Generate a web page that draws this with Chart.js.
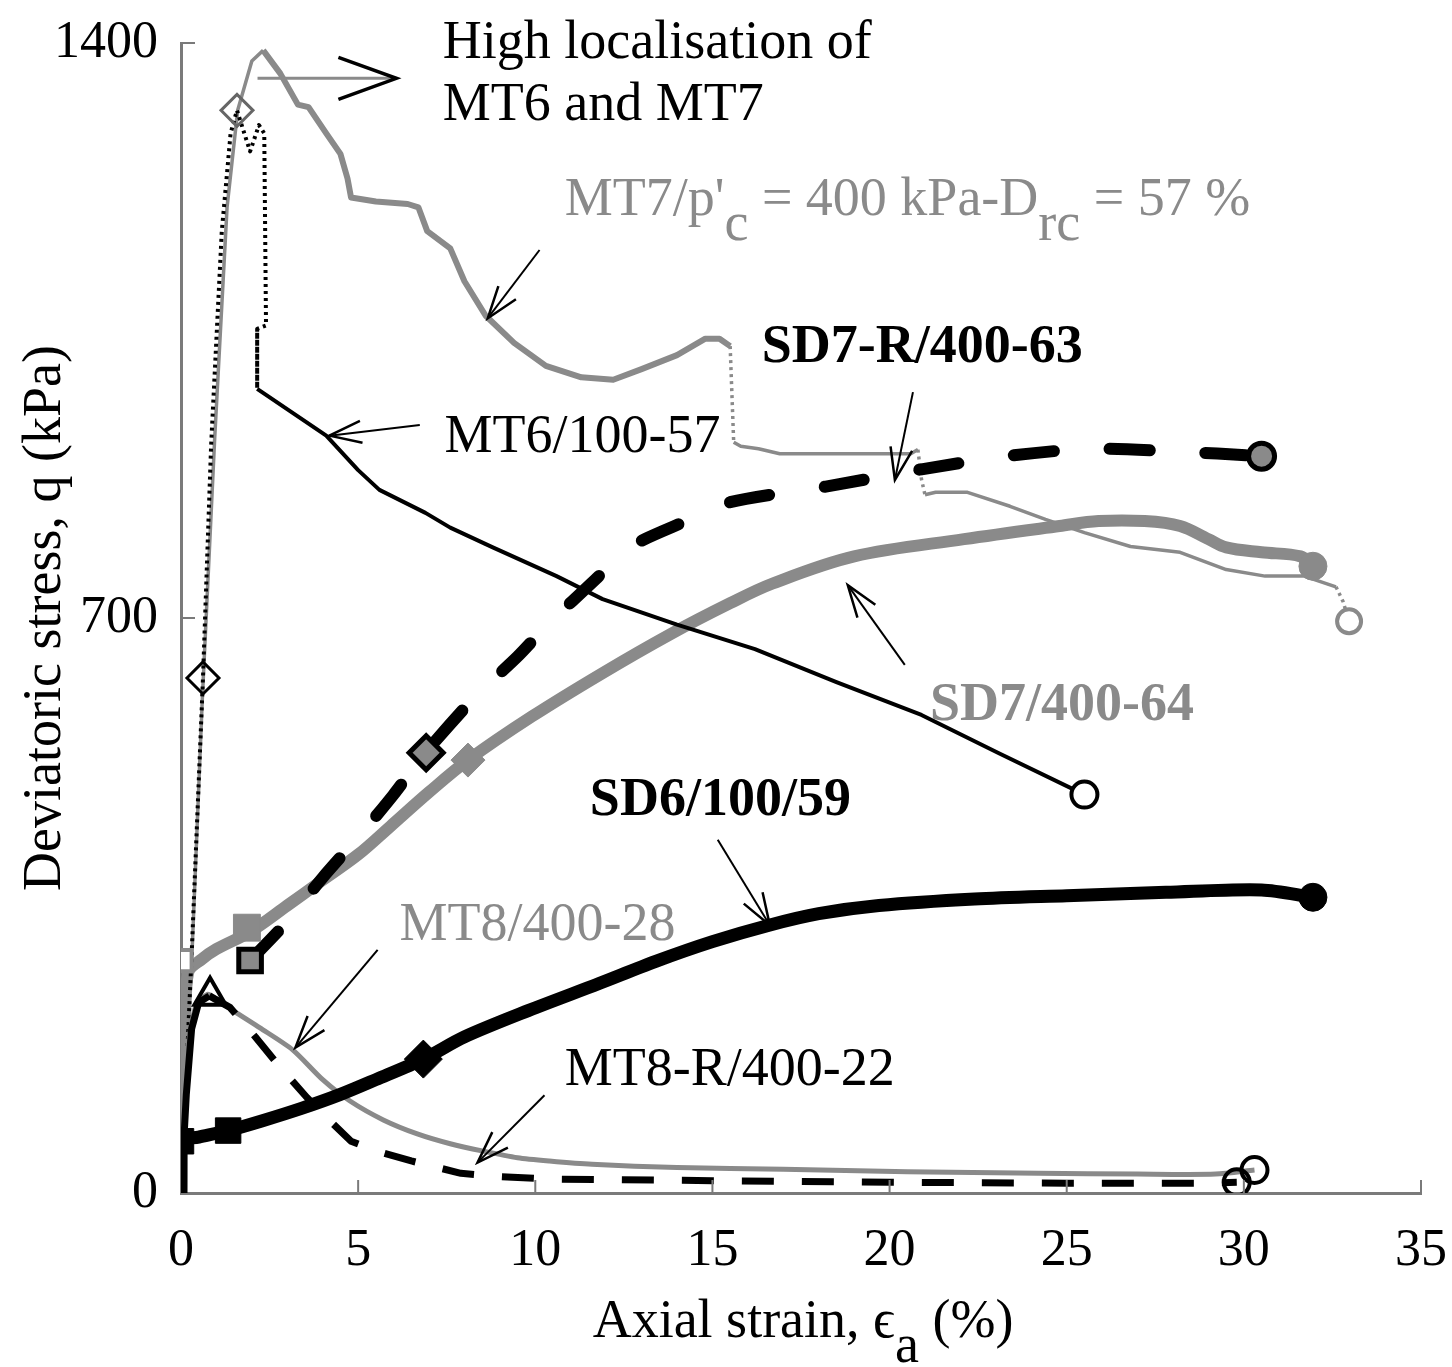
<!DOCTYPE html>
<html>
<head>
<meta charset="utf-8">
<script src="https://cdn.jsdelivr.net/npm/chart.js@4.4.0/dist/chart.umd.min.js"></script>
<style>
  html, body { margin: 0; padding: 0; background: #fff; }
  #wrap { width: 1452px; height: 1367px; }
</style>
</head>
<body>
<div id="wrap"><canvas id="chart" width="1452" height="1367"></canvas></div>
<script>
/* axes */
var X_TICKS = [0, 5, 10, 15, 20, 25, 30, 35];
var Y_TICKS = [0, 700, 1400];

/* MT7/400-57 : thin grey, dotted where the sample localised */
var mt7Strain = [0, 0.3, 0.6, 0.95, 1.3, 1.6, 2.0, 2.32, 2.8, 3.3, 3.6, 4.1, 4.5, 4.7, 4.8, 5.5, 6.4, 6.7, 6.95, 7.6, 8.0, 8.6, 9.4, 10.3, 11.3, 12.2, 13.0, 14.0, 14.8, 15.2, 15.5,
  15.6, 15.8, 16.3, 16.9, 18.5, 20.6, 20.8, 20.9, 21.0, 21.3, 22.2, 23.4, 24.4, 25.5, 26.8, 28.2, 29.5, 30.6, 31.7, 32.6, 32.8, 32.97];
var mt7Q = [0, 280, 600, 918, 1200, 1318, 1378, 1391, 1363, 1325, 1322, 1290, 1265, 1235, 1212, 1207, 1204, 1200, 1171, 1150, 1110, 1068, 1035, 1007, 993, 990, 1003, 1020, 1040, 1040, 1031,
  914, 909, 906, 900, 900, 900, 905, 869, 850, 853, 853, 836, 820, 804, 787, 780, 759, 751, 751, 738, 720, 696];
var mt7Dotted = [30, 37, 38, 50, 51];

/* MT6/100-57 : thin black, dotted rise and drop */
var mt6Strain = [0, 0.3, 0.62, 0.85, 1.15, 1.4, 1.58, 1.95, 2.2, 2.35, 2.4, 2.15, 2.15, 4.1, 5.0, 5.6, 6.9, 7.6, 8.8, 10.6, 11.9, 14.0, 16.2, 18.5, 20.9, 23.1, 25.5];
var mt6Q = [0, 290, 627, 910, 1170, 1290, 1318, 1268, 1300, 1290, 1056, 1052, 979, 922, 880, 856, 828, 810, 786, 751, 723, 692, 662, 622, 582, 535, 485];
var mt6Dotted = [0, 1, 2, 3, 4, 5, 6, 7, 8, 9, 10, 11];

/* SD7/400-64 : thick grey */
var sd7Strain = [0, 0.05, 0.2, 0.6, 1.0, 1.95, 3.0, 3.9, 5.0, 5.9, 7.0, 8.1, 9.9, 11.9, 13.8, 15.5, 16.7, 19.0, 22.1, 24.8, 25.9, 27.2, 28.2, 29.0, 29.5, 30.5, 31.6, 31.95];
var sd7Q = [0, 160, 268, 285, 297, 318, 350, 378, 412, 446, 488, 527, 580, 633, 680, 718, 742, 775, 796, 812, 818, 818, 812, 796, 786, 780, 775, 763];

/* SD7-R/400-63 : thick black dashed (visible from its first marker on) */
var sd7rStrain = [1.95, 2.9, 4.0, 5.1, 6.0, 6.9, 8.3, 9.5, 10.4, 11.7, 12.7, 14.2, 15.5, 18.2, 20.9, 23.3, 25.6, 28.0, 30.5];
var sd7rQ = [283, 326, 384, 438, 485, 536, 604, 653, 694, 747, 787, 817, 841, 860, 881, 897, 906, 903, 897];

/* SD6/100/59 : thick black */
var sd6Strain = [0, 0, 0.5, 1.33, 2.3, 3.4, 4.5, 5.5, 6.84, 8.0, 9.8, 11.8, 13.4, 15.0, 16.6, 18.0, 19.7, 22.4, 25.0, 27.8, 30.5, 31.95];
var sd6Q = [0, 63, 68, 76, 88, 103, 120, 138, 163, 190, 222, 255, 282, 306, 326, 340, 350, 358, 362, 366, 369, 360];

/* MT8/400-28 : thin grey */
var mt8Strain = [0, 0.15, 0.4, 0.75, 1.0, 1.47, 2.23, 3.16, 4.0, 4.77, 5.71, 6.67, 7.6, 8.53, 9.5, 10.4, 11.6, 14.0, 17.0, 20.5, 24.2, 27.0, 29.2, 30.3];
var mt8Q = [0, 160, 225, 242, 236, 222, 201, 174, 138, 112, 89, 72, 60, 51, 43, 39, 35, 31, 29, 26, 24, 23, 23, 28];

/* MT8-R/400-22 : black dashed */
var mt8rStrain = [0, 0.15, 0.3, 0.5, 0.8, 1.38, 2.1, 2.8, 3.56, 4.2, 4.8, 5.6, 6.5, 7.9, 9.0, 10.4, 15.0, 20.0, 25.0, 28.8, 29.8];
var mt8rQ = [0, 120, 200, 232, 240, 226, 190, 153, 116, 88, 63, 50, 39, 24, 20, 17, 15, 13, 12, 12, 13];
var mt8rSolid = [0, 1, 2, 3];

/* markers */
var sd7OpenSqStrain = [0], sd7OpenSqQ = [283];
var sd7SqStrain = [1.86], sd7SqQ = [323];
var sd7DiaStrain = [8.1], sd7DiaQ = [527];
var sd7EndStrain = [31.95], sd7EndQ = [763];
var sd7rSqStrain = [1.95], sd7rSqQ = [283];
var sd7rDiaStrain = [6.92], sd7rDiaQ = [536];
var sd7rEndStrain = [30.5], sd7rEndQ = [897];
var sd6SqStrain = [0, 1.33], sd6SqQ = [63, 76];
var sd6DiaStrain = [6.84], sd6DiaQ = [163];
var sd6EndStrain = [31.95], sd6EndQ = [360];
var mt6DiaStrain = [0.62], mt6DiaQ = [627];
var mt7DiaStrain = [1.58], mt7DiaQ = [1318];
var mt6EndStrain = [25.5], mt6EndQ = [485];
var mt7EndStrain = [32.97], mt7EndQ = [696];
var mt8TriStrain = [0.82], mt8TriQ = [240];
var mt8EndStrain = [30.3], mt8EndQ = [28];
var mt8rEndStrain = [29.8], mt8rEndQ = [13];

var GREY = '#8a8a8a';
var BLACK = '#000';
var AXIS = '#7a7a7a';
var FONT = '"Liberation Serif", "Times New Roman", serif';

/* text labels and arrows, in data units (strain %, kPa) */
var LABELS = [
  { runs: [{ t: 'High localisation of' }], x: 7.39, q: 1382, colour: BLACK },
  { runs: [{ t: 'MT6 and MT7' }], x: 7.39, q: 1306, colour: BLACK },
  { runs: [{ t: "MT7/p'" }, { t: 'c', dy: 25 }, { t: ' = 400 kPa-D' }, { t: 'rc', dy: 25 }, { t: ' = 57 %' }], x: 10.83, q: 1191, colour: GREY },
  { runs: [{ t: 'SD7-R/400-63' }], x: 16.39, q: 1012, colour: BLACK, bold: true },
  { runs: [{ t: 'MT6/100-57' }], x: 7.44, q: 902, colour: BLACK },
  { runs: [{ t: 'SD7/400-64' }], x: 21.14, q: 576, colour: GREY, bold: true },
  { runs: [{ t: 'SD6/100/59' }], x: 11.54, q: 460, colour: BLACK, bold: true },
  { runs: [{ t: 'MT8/400-28' }], x: 6.17, q: 308, colour: GREY },
  { runs: [{ t: 'MT8-R/400-22' }], x: 10.83, q: 131, colour: BLACK }
];
var ARROWS = [
  { from: [2.16, 1357], to: [6.08, 1357], shaft: GREY, width: 3, head: 58, spread: 21, headWidth: 3.5 },
  { from: [10.12, 1148], to: [8.66, 1065] },
  { from: [20.66, 975], to: [20.15, 868] },
  { from: [6.74, 935], to: [4.19, 922] },
  { from: [20.43, 643], to: [18.82, 740] },
  { from: [15.15, 430], to: [16.62, 326] },
  { from: [5.55, 296], to: [3.23, 177] },
  { from: [10.26, 119], to: [8.37, 37] }
];

function pts(xs, ys) {
  return xs.map(function (x, i) { return { x: x, y: ys[i] }; });
}

function lineSet(xs, ys, opts) {
  return Object.assign({
    data: pts(xs, ys), showLine: true, pointRadius: 0, pointHoverRadius: 0,
    fill: false, tension: 0, borderCapStyle: 'butt', borderJoinStyle: 'round'
  }, opts);
}

function markerSet(xs, ys, style, radius, fillColour, edgeColour, edge) {
  return {
    data: pts(xs, ys), showLine: false, pointStyle: style, pointRadius: radius, pointHoverRadius: radius,
    backgroundColor: fillColour, borderColor: edgeColour, pointBorderWidth: edge, borderWidth: edge, order: 0
  };
}

var datasets = [
  lineSet(mt7Strain, mt7Q, {
    borderColor: GREY, borderWidth: 4, order: 10,
    segment: {
      borderDash: function (c) { return mt7Dotted.indexOf(c.p0DataIndex) >= 0 ? [3, 4] : undefined; },
      borderWidth: function (c) { return (c.p0DataIndex >= 7 && c.p0DataIndex < 30) ? 6 : 3.5; }
    }
  }),
  lineSet(sd7Strain, sd7Q, { borderColor: GREY, borderWidth: 12, tension: 0.35, borderCapStyle: 'round', order: 9 }),
  lineSet(mt6Strain, mt6Q, {
    borderColor: BLACK, borderWidth: 4, order: 8,
    segment: {
      borderDash: function (c) { return mt6Dotted.indexOf(c.p0DataIndex) >= 0 ? [3, 4] : undefined; }
    }
  }),
  lineSet(sd7rStrain, sd7rQ, { borderColor: BLACK, borderWidth: 12, tension: 0.25, borderCapStyle: 'round', borderDash: [40, 56], order: 7 }),
  lineSet(mt8Strain, mt8Q, { borderColor: GREY, borderWidth: 5, tension: 0.25, order: 6 }),
  lineSet(mt8rStrain, mt8rQ, {
    borderColor: BLACK, borderWidth: 7, tension: 0, order: 5,
    segment: {
      borderDash: function (c) { return mt8rSolid.indexOf(c.p0DataIndex) >= 0 ? undefined : [32, 28]; }
    }
  }),
  lineSet(sd6Strain, sd6Q, { borderColor: BLACK, borderWidth: 13, tension: 0.3, borderCapStyle: 'round', order: 4 }),

  markerSet(sd7OpenSqStrain, sd7OpenSqQ, 'rect', 15, '#fff', GREY, 4),
  markerSet(sd7SqStrain, sd7SqQ, 'rect', 19, GREY, GREY, 1),
  markerSet(sd7DiaStrain, sd7DiaQ, 'rectRot', 17, GREY, GREY, 1),
  markerSet(sd7EndStrain, sd7EndQ, 'circle', 14, GREY, GREY, 1),
  markerSet(sd7rSqStrain, sd7rSqQ, 'rect', 16, GREY, BLACK, 5),
  markerSet(sd7rDiaStrain, sd7rDiaQ, 'rectRot', 17, GREY, BLACK, 5),
  markerSet(sd7rEndStrain, sd7rEndQ, 'circle', 13, GREY, BLACK, 5),
  markerSet(sd6SqStrain, sd6SqQ, 'rect', 18, BLACK, BLACK, 1),
  markerSet(sd6DiaStrain, sd6DiaQ, 'rectRot', 19, BLACK, BLACK, 1),
  markerSet(sd6EndStrain, sd6EndQ, 'circle', 14, BLACK, BLACK, 1),
  markerSet(mt6DiaStrain, mt6DiaQ, 'rectRot', 16, 'rgba(255,255,255,0)', BLACK, 3),
  markerSet(mt7DiaStrain, mt7DiaQ, 'rectRot', 16, 'rgba(255,255,255,0)', '#666', 3),
  markerSet(mt6EndStrain, mt6EndQ, 'circle', 13, '#fff', BLACK, 4),
  markerSet(mt7EndStrain, mt7EndQ, 'circle', 12, '#fff', GREY, 4),
  markerSet(mt8TriStrain, mt8TriQ, 'triangle', 18, 'rgba(255,255,255,0)', BLACK, 4),
  markerSet(mt8EndStrain, mt8EndQ, 'circle', 13, 'rgba(255,255,255,0)', BLACK, 4),
  markerSet(mt8rEndStrain, mt8rEndQ, 'circle', 13, 'rgba(255,255,255,0)', BLACK, 4)
];

function drawArrow(ctx, xs, ys, a) {
  var x0 = xs.getPixelForValue(a.from[0]), y0 = ys.getPixelForValue(a.from[1]);
  var x1 = xs.getPixelForValue(a.to[0]), y1 = ys.getPixelForValue(a.to[1]);
  var ang = Math.atan2(y1 - y0, x1 - x0);
  var len = a.head || 32, spread = a.spread || 11;
  ctx.strokeStyle = a.shaft || BLACK;
  ctx.lineWidth = a.width || 2;
  ctx.beginPath(); ctx.moveTo(x0, y0); ctx.lineTo(x1, y1); ctx.stroke();
  var bx = x1 - len * Math.cos(ang), by = y1 - len * Math.sin(ang);
  var nx = -Math.sin(ang) * spread, ny = Math.cos(ang) * spread;
  ctx.strokeStyle = BLACK;
  ctx.lineWidth = a.headWidth || 2.5;
  ctx.beginPath();
  ctx.moveTo(bx + nx, by + ny); ctx.lineTo(x1, y1); ctx.lineTo(bx - nx, by - ny);
  ctx.stroke();
}

var annotate = {
  id: 'annotate',
  afterDraw: function (chart) {
    var ctx = chart.ctx, xs = chart.scales.x, ys = chart.scales.y, a = chart.chartArea;
    ctx.save();

    /* inward tick marks */
    ctx.strokeStyle = AXIS; ctx.lineWidth = 2;
    xs.ticks.forEach(function (t) {
      if (t.value === 0) return;
      var px = xs.getPixelForValue(t.value);
      ctx.beginPath(); ctx.moveTo(px, a.bottom); ctx.lineTo(px, a.bottom - 13); ctx.stroke();
    });
    ys.ticks.forEach(function (t) {
      if (t.value === 0) return;
      var py = ys.getPixelForValue(t.value);
      ctx.beginPath(); ctx.moveTo(a.left, py); ctx.lineTo(a.left + 14, py); ctx.stroke();
    });

    /* axis titles */
    ctx.fillStyle = BLACK;
    ctx.font = '54px ' + FONT;
    ctx.save();
    ctx.translate(60, (a.top + a.bottom) / 2);
    ctx.rotate(-Math.PI / 2);
    ctx.textAlign = 'center'; ctx.textBaseline = 'alphabetic';
    ctx.fillText('Deviatoric stress, q (kPa)', 0, 0);
    ctx.restore();

    var xRuns = [{ t: 'Axial strain, \u03F5' }, { t: 'a', dy: 25 }, { t: ' (%)' }];
    var total = xRuns.reduce(function (s, r) { return s + ctx.measureText(r.t).width; }, 0);
    var cx = (a.left + a.right) / 2 - total / 2 + 2;
    ctx.textAlign = 'left';
    xRuns.forEach(function (r) { ctx.fillText(r.t, cx, 1337 + (r.dy || 0)); cx += ctx.measureText(r.t).width; });

    /* curve labels */
    LABELS.forEach(function (l) {
      ctx.font = (l.bold ? 'bold ' : '') + '54px ' + FONT;
      ctx.fillStyle = l.colour;
      var px = xs.getPixelForValue(l.x), py = ys.getPixelForValue(l.q);
      l.runs.forEach(function (r) {
        ctx.fillText(r.t, px, py + (r.dy || 0));
        px += ctx.measureText(r.t).width;
      });
    });

    /* arrows */
    ARROWS.forEach(function (ar) { drawArrow(ctx, xs, ys, ar); });
    ctx.restore();
  }
};

new Chart(document.getElementById('chart'), {
  type: 'scatter',
  data: { datasets: datasets },
  options: {
    responsive: false,
    animation: false,
    events: [],
    layout: { padding: { top: 43, right: 31, left: 0, bottom: 0 } },
    plugins: { legend: { display: false }, tooltip: { enabled: false }, title: { display: false } },
    scales: {
      x: {
        type: 'linear', min: 0, max: 35,
        afterBuildTicks: function (s) { s.ticks = X_TICKS.map(function (v) { return { value: v }; }); },
        afterFit: function (s) { s.height = 174; s.paddingLeft = 0; s.paddingRight = 0; },
        grid: { display: true, drawOnChartArea: false, drawTicks: false },
        border: { display: true, color: AXIS, width: 3 },
        ticks: { color: BLACK, padding: 27, maxRotation: 0, font: { family: FONT, size: 52 },
          callback: function (v) { return String(v); } }
      },
      y: {
        type: 'linear', min: 0, max: 1400,
        afterBuildTicks: function (s) { s.ticks = Y_TICKS.map(function (v) { return { value: v }; }); },
        afterFit: function (s) { s.width = 181; s.paddingTop = 0; s.paddingBottom = 0; },
        grid: { display: true, drawOnChartArea: false, drawTicks: false },
        border: { display: true, color: AXIS, width: 3 },
        ticks: { color: BLACK, padding: 23, font: { family: FONT, size: 52 },
          callback: function (v) { return String(v); } }
      }
    }
  },
  plugins: [annotate]
});
</script>
</body>
</html>
